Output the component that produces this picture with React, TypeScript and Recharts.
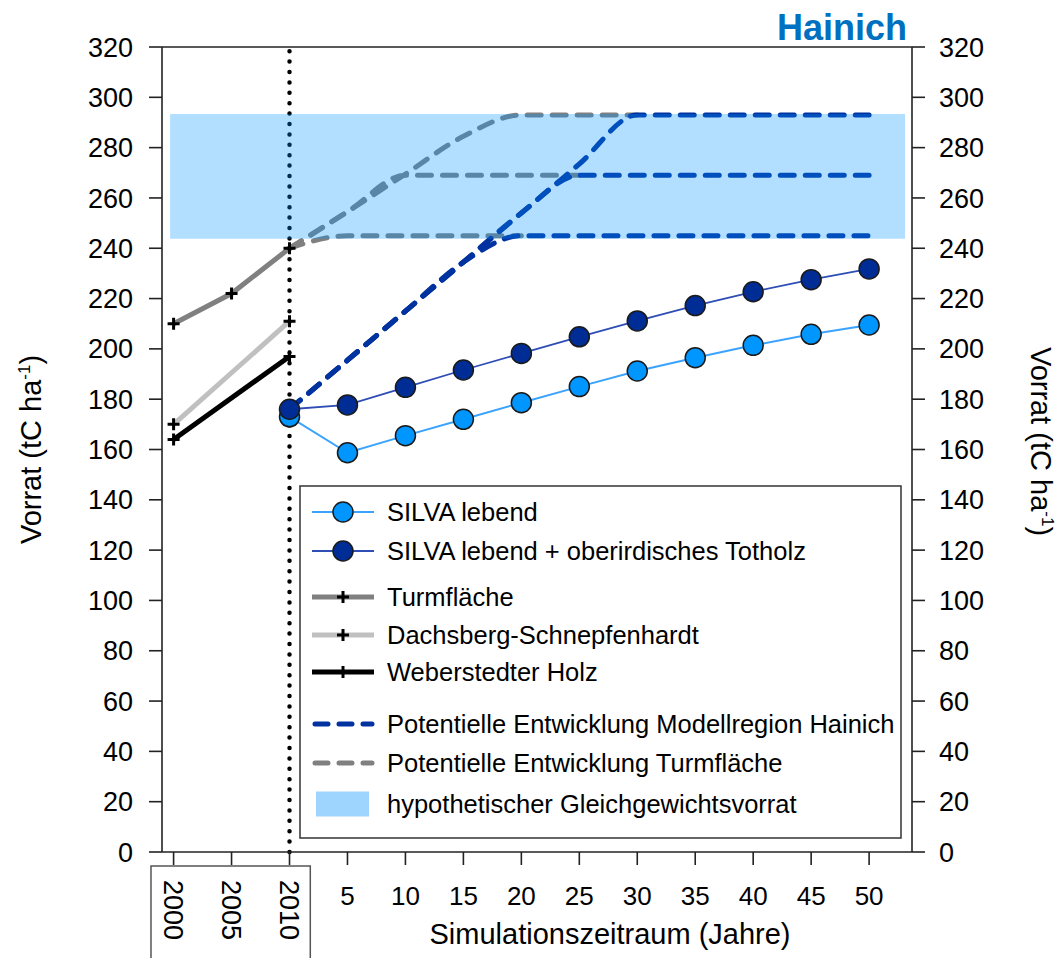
import React from "react";
import {
  ComposedChart,
  Line,
  XAxis,
  YAxis,
  ReferenceLine,
  ReferenceArea,
} from "recharts";

const FONT = '"Liberation Sans", Arial, sans-serif';

// x: -10, -5, 0 = Jahre 2000, 2005, 2010; danach Simulationsjahre 5..50
const messJahre = [-10, -5, 0];
const simJahre = [0, 5, 10, 15, 20, 25, 30, 35, 40, 45, 50];
const xTicks = [-10, -5, 0, 5, 10, 15, 20, 25, 30, 35, 40, 45, 50];
const xTickLabels = ["2000", "2005", "2010", "5", "10", "15", "20", "25", "30", "35", "40", "45", "50"];
const yTicks = [0, 20, 40, 60, 80, 100, 120, 140, 160, 180, 200, 220, 240, 260, 280, 300, 320];

// Inventurwerte (tC/ha)
const turmflaeche = [210, 222, 240];
const dachsberg = [170, null, 211];
const weberstedter = [164, null, 197];

// SILVA Simulation
const silvaLebend = [173, 158.7, 165.5, 172, 178.6, 185, 191.2, 196.5, 201.4, 205.8, 209.5];
const silvaTotholz = [176, 177.7, 184.7, 191.6, 198.2, 204.8, 211.1, 217.2, 222.7, 227.5, 231.8];

// potentielle Entwicklung Modellregion Hainich (drei Varianten)
const hainichHoch = [176, 195.5, 215, 234.5, 254, 273.5, 293, 293, 293, 293, 293];
const hainichMittel = [176, 195.5, 215, 234.5, 254, 269, 269, 269, 269, 269, 269];
const hainichNiedrig = [176, 195.5, 215, 234.5, 245, 245, 245, 245, 245, 245, 245];

// potentielle Entwicklung Turmfläche
const turmHoch = [240, 254.5, 269.5, 284.5, 293, 293, 293];
const turmMittel = [240, 254.5, 269, 269, 269, 269];
const turmNiedrig = [240, 245, 245, 245, 245];

// hypothetischer Gleichgewichtsvorrat
const gleichgewicht = { von: 243.8, bis: 293.4, xStart: -10.3, xEnde: 53.1 };

const toPoints = (xs: number[], ys: (number | null)[]) =>
  ys
    .map((y, i) => ({ x: xs[i], y }))
    .filter((p) => p.y !== null);

const HELLBLAU = "#0096FF";
const HELLBLAU_LINIE = "#3AA3FF";
const DUNKELBLAU = "#002C96";
const DUNKELBLAU_LINIE = "#2E4DB5";
const BLAU_STRICH = "#0033A0";
const GRAU = "#808080";
const HELLGRAU = "#C0C0C0";
const BAND = "rgb(0,145,255)";
const DASH = "14 11";

const CrossDot = (props: any) => {
  const { cx, cy } = props;
  if (cx == null || cy == null) return null;
  return (
    <path
      d={`M${cx - 6},${cy} h12 M${cx},${cy - 6} v12`}
      stroke="#000"
      strokeWidth={3}
      fill="none"
    />
  );
};

const XTick = (props: any) => {
  const { x, y, payload } = props;
  const v = payload.value;
  const label = xTickLabels[xTicks.indexOf(v)];
  if (v <= 0) {
    return (
      <g>
        {v === -10 && (
          <rect
            x={x - 22.6}
            y={y + 1}
            width={159.3}
            height={110}
            fill="none"
            stroke="#555"
            strokeWidth={1.5}
          />
        )}
        <text
          transform={`translate(${x},${y + 15}) rotate(90)`}
          dy="0.35em"
          fontSize={27}
          fill="#000"
        >
          {label}
        </text>
      </g>
    );
  }
  return (
    <text x={x} y={y + 40} textAnchor="middle" fontSize={26} fill="#000">
      {label}
    </text>
  );
};

const YTitle = ({ cx, cy, angle }: { cx: number; cy: number; angle: number }) => (
  <text
    transform={`translate(${cx},${cy}) rotate(${angle})`}
    textAnchor="middle"
    dy="0.35em"
    fontSize={29}
    fill="#000"
  >
    Vorrat (tC ha
    <tspan fontSize={17} dy={-11}>
      -1
    </tspan>
    <tspan dy={11}>)</tspan>
  </text>
);

const legendZeilen = [
  { name: "SILVA lebend", art: "kreis", farbe: HELLBLAU, linie: HELLBLAU_LINIE },
  { name: "SILVA lebend + oberirdisches Totholz", art: "kreis", farbe: DUNKELBLAU, linie: DUNKELBLAU_LINIE },
  { name: "Turmfläche", art: "kreuz", farbe: GRAU, linie: GRAU },
  { name: "Dachsberg-Schnepfenhardt", art: "kreuz", farbe: HELLGRAU, linie: HELLGRAU },
  { name: "Weberstedter Holz", art: "kreuz", farbe: "#000", linie: "#000" },
  { name: "Potentielle Entwicklung Modellregion Hainich", art: "strich", farbe: BLAU_STRICH, linie: BLAU_STRICH },
  { name: "Potentielle Entwicklung Turmfläche", art: "strich", farbe: GRAU, linie: GRAU },
  { name: "hypothetischer Gleichgewichtsvorrat", art: "flaeche", farbe: BAND, linie: BAND },
];
const legendY = [512, 551, 597, 635, 672, 724, 763, 804];

const Legende = () => (
  <svg
    width={1063}
    height={958}
    style={{ position: "absolute", left: 0, top: 0, pointerEvents: "none" }}
  >
    <text x={907} y={40} textAnchor="end" fontSize={36} fontWeight="bold" fill="#0070C0">
      Hainich
    </text>
    <rect x={300} y={486} width={601} height={352} fill="#fff" stroke="#333" strokeWidth={1.5} />
    {legendZeilen.map((z, i) => {
      const y = legendY[i];
      return (
        <g key={z.name}>
          {z.art === "kreis" && (
            <>
              <line x1={312} x2={374} y1={y} y2={y} stroke={z.linie} strokeWidth={2} />
              <circle cx={343} cy={y} r={10} fill={z.farbe} stroke="#1a1a1a" strokeWidth={1.5} />
            </>
          )}
          {z.art === "kreuz" && (
            <>
              <line x1={312} x2={374} y1={y} y2={y} stroke={z.linie} strokeWidth={5} />
              <CrossDot cx={343} cy={y} />
            </>
          )}
          {z.art === "strich" && (
            <line
              x1={315}
              x2={372}
              y1={y}
              y2={y}
              stroke={z.linie}
              strokeWidth={5}
              strokeDasharray="13 11"
              strokeLinecap="round"
            />
          )}
          {z.art === "flaeche" && (
            <rect x={316} y={y - 12.5} width={53} height={25} fill={z.farbe} fillOpacity={0.38} />
          )}
          <text x={387} y={y} dy="0.35em" fontSize={25.5} fill="#000">
            {z.name}
          </text>
        </g>
      );
    })}
  </svg>
);

export default function App() {
  const axisStyle = { stroke: "#222", strokeWidth: 1.6 };
  return (
    <div
      style={{
        position: "absolute",
        left: 0,
        top: 0,
        width: 1063,
        height: 958,
        background: "#fff",
        fontFamily: FONT,
      }}
    >
      <ComposedChart
        width={1063}
        height={958}
        margin={{ top: 47, right: 71, bottom: 6, left: 12 }}
      >
        <XAxis
          type="number"
          dataKey="x"
          domain={[-11, 53.7]}
          ticks={xTicks}
          allowDataOverflow
          interval={0}
          height={100}
          tickSize={13}
          tickMargin={0}
          axisLine={axisStyle}
          tickLine={axisStyle}
          tick={<XTick />}
          label={() => (
            <text x={610} y={944} textAnchor="middle" fontSize={29} fill="#000">
              Simulationszeitraum (Jahre)
            </text>
          )}
        />
        <YAxis
          yAxisId="l"
          type="number"
          domain={[0, 320]}
          allowDataOverflow
          ticks={yTicks}
          interval={0}
          width={150}
          tickSize={13}
          tickMargin={16}
          axisLine={axisStyle}
          tickLine={axisStyle}
          tick={{ fill: "#000", fontSize: 27 }}
          label={(p: any) => {
            const vb = p.viewBox || { x: 12, y: 47, width: 150, height: 805 };
            return <YTitle cx={vb.x + 19} cy={vb.y + vb.height / 2} angle={-90} />;
          }}
        />
        <YAxis
          yAxisId="r"
          orientation="right"
          type="number"
          domain={[0, 320]}
          allowDataOverflow
          ticks={yTicks}
          interval={0}
          width={80}
          tickSize={13}
          tickMargin={14}
          axisLine={axisStyle}
          tickLine={axisStyle}
          tick={{ fill: "#000", fontSize: 27 }}
          label={(p: any) => {
            const vb = p.viewBox || { x: 912, y: 47, width: 80, height: 805 };
            return <YTitle cx={vb.x + 129} cy={vb.y + vb.height / 2 - 8} angle={90} />;
          }}
        />

        <ReferenceLine yAxisId="l" y={320} stroke="#222" strokeWidth={1.6} />

        {/* Inventuren */}
        <Line
          yAxisId="l"
          data={toPoints(messJahre, turmflaeche)}
          dataKey="y"
          stroke={GRAU}
          strokeWidth={5}
          dot={<CrossDot />}
          isAnimationActive={false}
        />
        <Line
          yAxisId="l"
          data={toPoints(messJahre, dachsberg)}
          dataKey="y"
          stroke={HELLGRAU}
          strokeWidth={5}
          dot={<CrossDot />}
          isAnimationActive={false}
        />
        <Line
          yAxisId="l"
          data={toPoints(messJahre, weberstedter)}
          dataKey="y"
          stroke="#000"
          strokeWidth={5}
          dot={<CrossDot />}
          isAnimationActive={false}
        />

        {/* potentielle Entwicklung Turmfläche (rechte Achse, gleiche Skala) */}
        {[turmHoch, turmMittel, turmNiedrig].map((s, i) => (
          <Line
            key={"t" + i}
            yAxisId="r"
            data={toPoints(simJahre, s)}
            dataKey="y"
            type="monotone"
            stroke={GRAU}
            strokeWidth={5}
            strokeDasharray={DASH}
            strokeLinecap="round"
            dot={false}
            isAnimationActive={false}
          />
        ))}

        {/* potentielle Entwicklung Modellregion Hainich */}
        {[hainichHoch, hainichMittel, hainichNiedrig].map((s, i) => (
          <Line
            key={"h" + i}
            yAxisId="l"
            data={toPoints(simJahre, s)}
            dataKey="y"
            type="monotone"
            stroke={BLAU_STRICH}
            strokeWidth={5}
            strokeDasharray={DASH}
            strokeLinecap="round"
            dot={false}
            isAnimationActive={false}
          />
        ))}

        <ReferenceLine
          yAxisId="l"
          x={0}
          stroke="#000"
          strokeWidth={4.5}
          strokeDasharray="0 10.4"
          strokeLinecap="round"
          zIndex={450}
        />

        <Line
          yAxisId="l"
          data={toPoints(simJahre, silvaLebend)}
          dataKey="y"
          stroke={HELLBLAU_LINIE}
          strokeWidth={2}
          dot={{ r: 10, fill: HELLBLAU, stroke: "#1a1a1a", strokeWidth: 1.5 }}
          zIndex={500}
          isAnimationActive={false}
        />
        <Line
          yAxisId="l"
          data={toPoints(simJahre, silvaTotholz)}
          dataKey="y"
          stroke={DUNKELBLAU_LINIE}
          strokeWidth={1.8}
          dot={{ r: 10, fill: DUNKELBLAU, stroke: "#1a1a1a", strokeWidth: 1.5 }}
          zIndex={510}
          isAnimationActive={false}
        />

        <ReferenceArea
          yAxisId="l"
          x1={gleichgewicht.xStart}
          x2={gleichgewicht.xEnde}
          y1={gleichgewicht.von}
          y2={gleichgewicht.bis}
          fill={BAND}
          fillOpacity={0.3}
          stroke="none"
          zIndex={1000}
        />
      </ComposedChart>
      <Legende />
    </div>
  );
}
